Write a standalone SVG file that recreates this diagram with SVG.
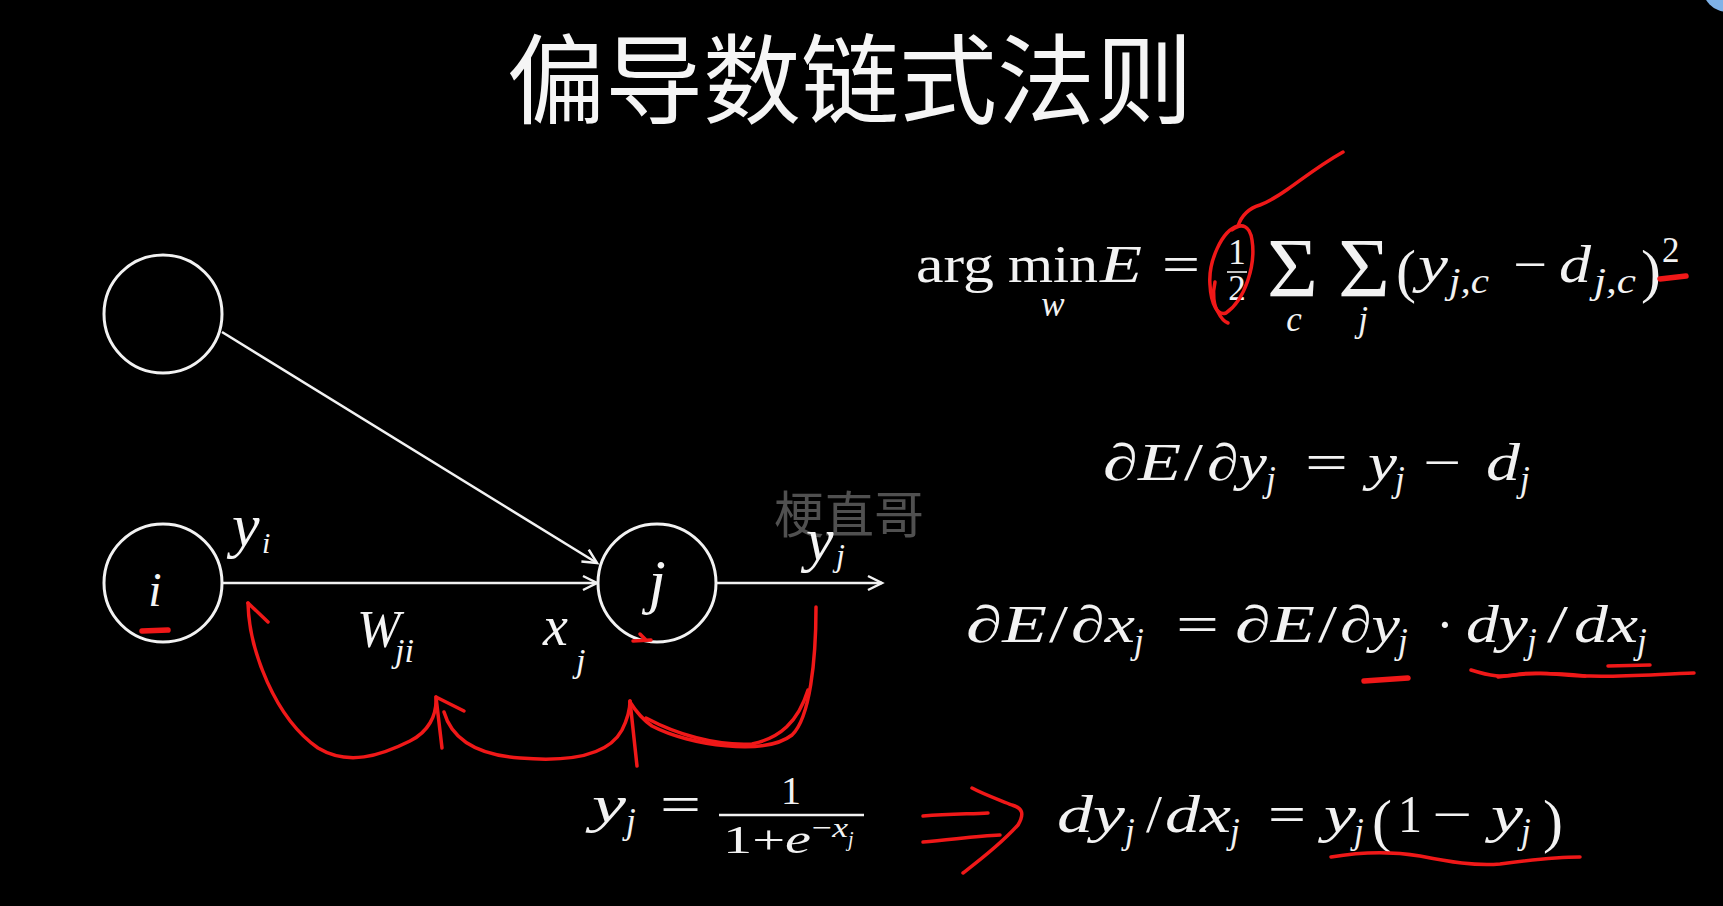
<svg xmlns="http://www.w3.org/2000/svg" width="1723" height="906" viewBox="0 0 1723 906">
<defs>
<style>
.m{font-family:"Liberation Serif","DejaVu Serif",serif;fill:#f2f2f2}
.b{font-size:52px}
.i{font-style:italic}
.s{font-size:35px}
.big{font-size:84px}
.par{font-size:60px}
.hw{font-family:"Liberation Serif","DejaVu Serif",serif;font-style:italic;fill:#f5f5f5}
.wl{stroke:#f2f2f2;stroke-width:2.5;fill:none}
.node{fill:#000;stroke:#f2f2f2;stroke-width:3}
.red{stroke:#f01818;stroke-width:3.5;fill:none;stroke-linecap:round;stroke-linejoin:round}
.redb{stroke:#f01818;stroke-width:5.5;fill:none;stroke-linecap:round}
</style>
<marker id="chev" viewBox="0 0 14 14" refX="14" refY="7" markerWidth="14" markerHeight="14" markerUnits="userSpaceOnUse" orient="auto" overflow="visible">
<path d="M0,0 L14,7 L0,14" fill="none" stroke="#f2f2f2" stroke-width="2.5"/>
</marker>
</defs>
<rect x="0" y="0" width="1723" height="906" fill="#000"/>
<circle cx="1728" cy="-14" r="26" fill="#7fb2e8"/>

<g id="title">
<text x="850" y="116" text-anchor="middle" font-family="'Noto Sans CJK SC','Noto Sans CJK JP',sans-serif" font-size="98" fill="#f5f5f5">偏导数链式法则</text>
</g>

<g id="watermark">
<text x="849" y="533" text-anchor="middle" font-family="'Noto Sans CJK SC',sans-serif" font-size="50" fill="#505050">梗直哥</text>
</g>

<g id="connectors">
<line class="wl" x1="222" y1="332" x2="597" y2="563" marker-end="url(#chev)"/>
<line class="wl" x1="222" y1="583" x2="597" y2="583" marker-end="url(#chev)"/>
<line class="wl" x1="716" y1="583" x2="882" y2="583" marker-end="url(#chev)"/>
</g>

<g id="node-top">
<circle class="node" cx="163" cy="314" r="59"/>
</g>
<g id="node-i">
<circle class="node" cx="163" cy="583" r="59"/>
<text class="hw" x="155" y="606" font-size="48" text-anchor="middle">i</text>
</g>
<g id="node-j">
<circle class="node" cx="657" cy="583" r="59"/>
<text class="hw" x="657" y="602" font-size="62" text-anchor="middle">j</text>
</g>

<g id="labels">
<text class="hw" x="232" y="546" font-size="62">y</text>
<text class="hw" x="262" y="553" font-size="30">i</text>
<text class="hw" x="357" y="647" font-size="52">W</text>
<text class="hw" x="395" y="662" font-size="34">ji</text>
<text class="hw" x="543" y="645" font-size="56">x</text>
<text class="hw" x="576" y="672" font-size="34">j</text>
<text class="hw" x="806" y="560" font-size="62">y</text>
<text class="hw" x="836" y="566" font-size="32">j</text>
</g>

<g id="formula1">
<text class="m b" x="916" y="282" textLength="78" lengthAdjust="spacingAndGlyphs">arg</text>
<text class="m b" x="1008" y="282" textLength="90" lengthAdjust="spacingAndGlyphs">min</text>
<text class="m i s" x="1053" y="316" text-anchor="middle">w</text>
<text class="m b i" x="1100" y="282" textLength="42" lengthAdjust="spacingAndGlyphs">E</text>
<text class="m b" x="1162" y="282" textLength="38" lengthAdjust="spacingAndGlyphs">=</text>
<text class="m s" x="1237" y="264" text-anchor="middle">1</text>
<line x1="1227" y1="272" x2="1247" y2="272" stroke="#f2f2f2" stroke-width="1.6"/>
<text class="m s" x="1237" y="300" text-anchor="middle">2</text>
<text class="m big" x="1267" y="297" textLength="51" lengthAdjust="spacingAndGlyphs">Σ</text>
<text class="m i s" x="1294" y="331" text-anchor="middle">c</text>
<text class="m big" x="1338" y="297" textLength="52" lengthAdjust="spacingAndGlyphs">Σ</text>
<text class="m i s" x="1363" y="331" text-anchor="middle">j</text>
<text class="m par" x="1396" y="291">(</text>
<text class="m b i" x="1418" y="282" textLength="30" lengthAdjust="spacingAndGlyphs">y</text>
<text class="m i s" x="1449" y="293" textLength="40" lengthAdjust="spacingAndGlyphs">j,c</text>
<text class="m b" x="1513" y="282" textLength="34" lengthAdjust="spacingAndGlyphs">−</text>
<text class="m b i" x="1559" y="282" textLength="32" lengthAdjust="spacingAndGlyphs">d</text>
<text class="m i s" x="1594" y="293" textLength="42" lengthAdjust="spacingAndGlyphs">j,c</text>
<text class="m par" x="1641" y="291">)</text>
<text class="m s" x="1662" y="262">2</text>
</g>

<g id="formula2">
<text class="m b i" x="1103" y="480" textLength="78" lengthAdjust="spacingAndGlyphs">∂E</text>
<text class="m b" x="1184" y="480" textLength="19" lengthAdjust="spacingAndGlyphs">/</text>
<text class="m b i" x="1207" y="480" textLength="60" lengthAdjust="spacingAndGlyphs">∂y</text>
<text class="m i s" x="1266" y="491">j</text>
<text class="m b" x="1305" y="480" textLength="43" lengthAdjust="spacingAndGlyphs">=</text>
<text class="m b i" x="1368" y="480" textLength="29" lengthAdjust="spacingAndGlyphs">y</text>
<text class="m i s" x="1395" y="491">j</text>
<text class="m b" x="1423" y="480" textLength="38" lengthAdjust="spacingAndGlyphs">−</text>
<text class="m b i" x="1486" y="480" textLength="34" lengthAdjust="spacingAndGlyphs">d</text>
<text class="m i s" x="1520" y="491">j</text>
</g>

<g id="formula3">
<text class="m b i" x="966" y="642" textLength="81" lengthAdjust="spacingAndGlyphs">∂E</text>
<text class="m b" x="1049" y="642" textLength="19" lengthAdjust="spacingAndGlyphs">/</text>
<text class="m b i" x="1071" y="642" textLength="64" lengthAdjust="spacingAndGlyphs">∂x</text>
<text class="m i s" x="1134" y="653">j</text>
<text class="m b" x="1176" y="642" textLength="43" lengthAdjust="spacingAndGlyphs">=</text>
<text class="m b i" x="1235" y="642" textLength="80" lengthAdjust="spacingAndGlyphs">∂E</text>
<text class="m b" x="1318" y="642" textLength="19" lengthAdjust="spacingAndGlyphs">/</text>
<text class="m b i" x="1340" y="642" textLength="60" lengthAdjust="spacingAndGlyphs">∂y</text>
<text class="m i s" x="1398" y="653">j</text>
<text class="m b" x="1445" y="642" text-anchor="middle">·</text>
<text class="m b i" x="1466" y="642" textLength="62" lengthAdjust="spacingAndGlyphs">dy</text>
<text class="m i s" x="1527" y="653">j</text>
<text class="m b" x="1547" y="642" textLength="21" lengthAdjust="spacingAndGlyphs">/</text>
<text class="m b i" x="1574" y="642" textLength="64" lengthAdjust="spacingAndGlyphs">dx</text>
<text class="m i s" x="1637" y="653">j</text>
</g>

<g id="formula4">
<text class="m b i" x="592" y="822" textLength="34" lengthAdjust="spacingAndGlyphs">y</text>
<text class="m i s" x="626" y="833">j</text>
<text class="m b" x="660" y="822" textLength="41" lengthAdjust="spacingAndGlyphs">=</text>
<text class="m" x="791" y="804" style="font-size:40px" text-anchor="middle">1</text>
<line x1="719" y1="815" x2="864" y2="815" stroke="#f2f2f2" stroke-width="2.5"/>
<text class="m" x="723" y="853" style="font-size:40px" textLength="88" lengthAdjust="spacingAndGlyphs">1+<tspan font-style="italic">e</tspan></text>
<text class="m" x="812" y="837" style="font-size:28px" textLength="36" lengthAdjust="spacingAndGlyphs">−<tspan font-style="italic">x</tspan></text>
<text class="m i" x="848" y="846" style="font-size:20px">j</text>
</g>

<g id="formula5">
<text class="m b i" x="1057" y="832" textLength="68" lengthAdjust="spacingAndGlyphs">dy</text>
<text class="m i s" x="1125" y="843">j</text>
<text class="m b" x="1146" y="832" textLength="16" lengthAdjust="spacingAndGlyphs">/</text>
<text class="m b i" x="1165" y="832" textLength="66" lengthAdjust="spacingAndGlyphs">dx</text>
<text class="m i s" x="1230" y="843">j</text>
<text class="m b" x="1268" y="832" textLength="38" lengthAdjust="spacingAndGlyphs">=</text>
<text class="m b i" x="1324" y="832" textLength="32" lengthAdjust="spacingAndGlyphs">y</text>
<text class="m i s" x="1354" y="843">j</text>
<text class="m par" x="1372" y="841">(</text>
<text class="m b" x="1398" y="832" textLength="24" lengthAdjust="spacingAndGlyphs">1</text>
<text class="m b" x="1432" y="832" textLength="40" lengthAdjust="spacingAndGlyphs">−</text>
<text class="m b i" x="1491" y="832" textLength="32" lengthAdjust="spacingAndGlyphs">y</text>
<text class="m i s" x="1521" y="843">j</text>
<text class="m par" x="1543" y="841">)</text>
</g>

<g id="annotations">
<path class="red" d="M1238 226 C1222 230 1208 262 1210 285 C1211 305 1218 316 1226 313 C1245 300 1256 265 1252 240 C1250 226 1242 222 1232 230"/>
<path class="red" d="M1215 282 C1212 294 1214 306 1218 312 C1221 318 1225 322 1228 323"/>
<path class="red" d="M1238 226 C1242 214 1250 208 1260 205 C1268 202 1278 196 1288 189 C1305 177 1320 165 1343 152"/>
<path class="redb" d="M1660 279 L1686 276"/>
<path class="redb" d="M1364 681 L1408 678"/>
<path class="red" d="M1471 670 C1490 676 1502 678 1520 674 C1545 671 1562 676 1590 676 C1622 677 1660 674 1694 673"/>
<path class="red" d="M1498 677 C1525 672 1555 673 1585 676"/>
<path class="red" d="M1608 666 L1650 665"/>
<path class="red" d="M1331 857 C1360 852 1390 851 1420 856 C1450 862 1475 866 1500 864 C1530 860 1560 857 1580 857"/>
<path class="red" d="M923 816 C950 814 970 814 988 813"/>
<path class="red" d="M923 842 C950 840 975 836 1000 835"/>
<path class="red" d="M972 788 C985 795 1000 800 1012 805 C1022 808 1025 813 1018 825 C1000 845 980 860 963 873"/>
<path class="redb" d="M142 631 L168 630"/>
<path class="red" d="M633 641 L651 640 M640 634 L646 640"/>
<path class="red" d="M248 603 C249 650 275 718 318 748 C348 766 380 756 410 741 C428 732 437 716 436 697"/>
<path class="red" d="M248 603 L268 622"/>
<path class="red" d="M436 697 L464 711 M436 697 L442 748"/>
<path class="red" d="M444 712 C452 740 478 755 520 758 C568 762 608 756 622 730 C628 718 630 708 630 701"/>
<path class="red" d="M630 701 L637 766"/>
<path class="red" d="M816 607 C816 660 810 718 792 735 C765 756 690 746 652 726 C642 719 635 710 630 702"/>
<path class="red" d="M808 690 C798 722 780 738 752 744 C715 746 676 734 646 718"/>
</g>
</svg>
